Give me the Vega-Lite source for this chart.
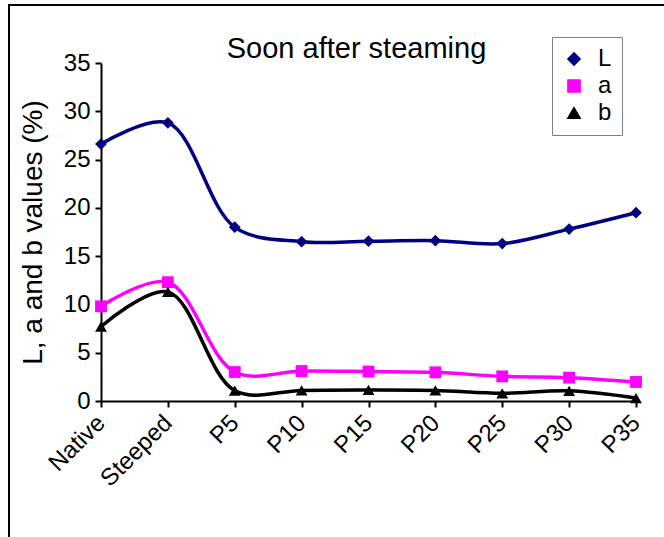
{
  "$schema": "https://vega.github.io/schema/vega-lite/v6.json",
  "autosize": "none",
  "width": 655,
  "height": 532,
  "padding": {"left": 9, "top": 5, "right": 0, "bottom": 0},
  "background": "white",
  "config": {
    "font": "Liberation Sans",
    "view": {"stroke": "black", "strokeWidth": 2, "strokeDash": [655, 1187, 532]},
    "axis": {
      "grid": false,
      "domainColor": "black",
      "domainWidth": 2,
      "tickColor": "black",
      "tickWidth": 2,
      "tickSize": 6,
      "labelColor": "black",
      "labelFont": "Liberation Sans",
      "labelFontSize": 24,
      "titleFont": "Liberation Sans",
      "titleFontWeight": "normal",
      "titleColor": "black"
    }
  },
  "title": {
    "text": "Soon after steaming",
    "font": "Liberation Sans",
    "fontSize": 29,
    "fontWeight": "normal",
    "color": "black",
    "anchor": "middle",
    "baseline": "alphabetic",
    "offset": -82,
    "dx": 20
  },
  "data": {
    "values": [
      {"sample": "Native", "series": "L", "value": 26.6},
      {"sample": "Steeped", "series": "L", "value": 28.8},
      {"sample": "P5", "series": "L", "value": 18.0},
      {"sample": "P10", "series": "L", "value": 16.5},
      {"sample": "P15", "series": "L", "value": 16.55},
      {"sample": "P20", "series": "L", "value": 16.6},
      {"sample": "P25", "series": "L", "value": 16.3},
      {"sample": "P30", "series": "L", "value": 17.8},
      {"sample": "P35", "series": "L", "value": 19.5},
      {"sample": "Native", "series": "a", "value": 9.8},
      {"sample": "Steeped", "series": "a", "value": 12.3},
      {"sample": "P5", "series": "a", "value": 3.0},
      {"sample": "P10", "series": "a", "value": 3.1},
      {"sample": "P15", "series": "a", "value": 3.05},
      {"sample": "P20", "series": "a", "value": 2.97},
      {"sample": "P25", "series": "a", "value": 2.55},
      {"sample": "P30", "series": "a", "value": 2.42},
      {"sample": "P35", "series": "a", "value": 1.97},
      {"sample": "Native", "series": "b", "value": 7.7},
      {"sample": "Steeped", "series": "b", "value": 11.3},
      {"sample": "P5", "series": "b", "value": 1.07},
      {"sample": "P10", "series": "b", "value": 1.1},
      {"sample": "P15", "series": "b", "value": 1.15},
      {"sample": "P20", "series": "b", "value": 1.1},
      {"sample": "P25", "series": "b", "value": 0.8},
      {"sample": "P30", "series": "b", "value": 1.05},
      {"sample": "P35", "series": "b", "value": 0.3}
    ]
  },
  "encoding": {
    "x": {
      "field": "sample",
      "type": "ordinal",
      "sort": null,
      "scale": {"type": "point", "range": [92, 627], "padding": 0},
      "axis": {
        "title": null,
        "offset": -136,
        "labelAngle": -45,
        "labelAlign": "right",
        "labelBaseline": "middle",
        "labelPadding": 12
      }
    },
    "y": {
      "field": "value",
      "type": "quantitative",
      "scale": {"domain": [0, 35], "range": [396, 58], "nice": false},
      "axis": {
        "title": "L, a and b values (%)",
        "titleFontSize": 28,
        "offset": -92,
        "values": [0, 5, 10, 15, 20, 25, 30, 35],
        "labelPadding": 5,
        "titlePadding": 16
      }
    },
    "color": {
      "field": "series",
      "type": "nominal",
      "scale": {"domain": ["L", "a", "b"], "range": ["#000080", "#FF00FF", "#000000"]},
      "legend": {
        "title": null,
        "orient": "none",
        "legendX": 543,
        "legendY": 32,
        "strokeColor": "#808080",
        "padding": 10,
        "symbolSize": 150,
        "labelFontSize": 24,
        "labelColor": "black",
        "labelOffset": 12,
        "rowPadding": 3
      }
    }
  },
  "layer": [
    {
      "mark": {"type": "line", "interpolate": "catmull-rom", "strokeWidth": 3.5}
    },
    {
      "mark": {"type": "point", "filled": true, "opacity": 1, "size": 140},
      "encoding": {
        "shape": {
          "field": "series",
          "type": "nominal",
          "scale": {"domain": ["L", "a", "b"], "range": ["diamond", "square", "triangle-up"]}
        }
      }
    }
  ]
}
